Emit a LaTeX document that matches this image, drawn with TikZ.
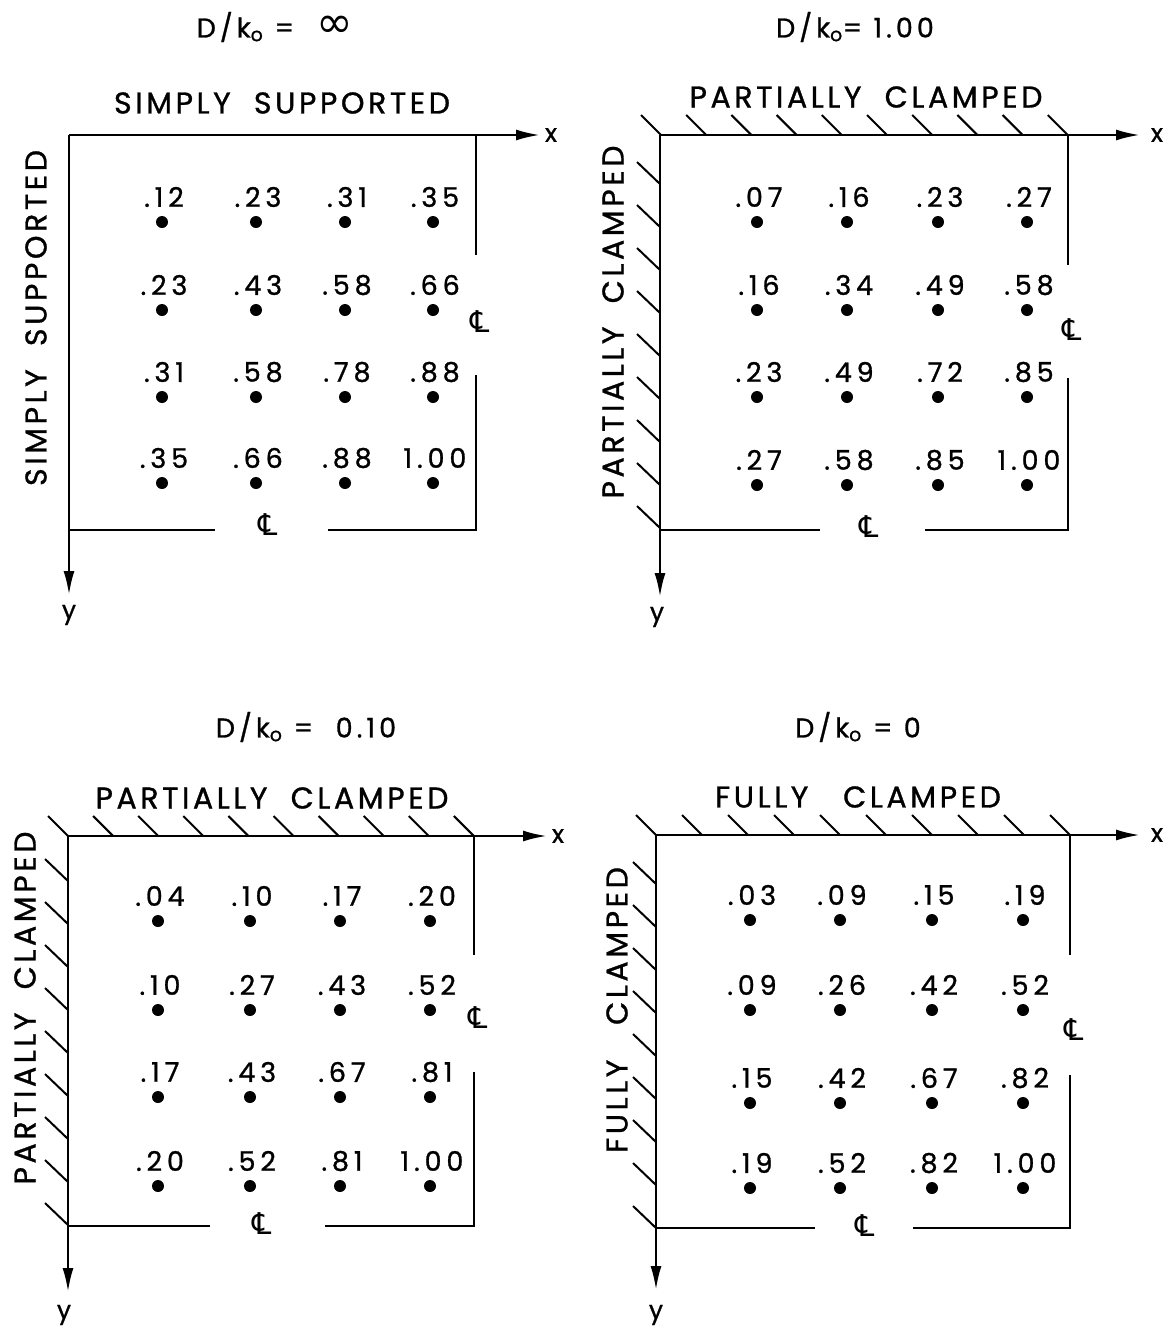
\documentclass[tikz,border=0pt]{standalone}
\usepackage{fontspec}
\setmainfont{Poppins}[FakeBold=1]
\newfontfamily\symfont{DejaVu Sans}
\usetikzlibrary{arrows.meta}
\tikzset{
  plate/.style={line width=2.5pt},
  axisarrow/.style={line width=2.5pt,-{Latex[length=24pt,width=11pt]}},
  hatchline/.style={line width=2pt},
  dot/.style={circle,fill=black,inner sep=0pt,minimum size=12pt},
  val/.style={font=\fontsize{27}{29}\selectfont\addfontfeature{LetterSpace=18},inner sep=0pt},
  title/.style={font=\fontsize{30}{32}\selectfont\addfontfeature{LetterSpace=12},inner sep=0pt},
  ratio/.style={font=\fontsize{27}{29}\selectfont\addfontfeature{LetterSpace=15},inner sep=0pt},
  axlab/.style={font=\fontsize{25}{27}\selectfont,inner sep=0pt},
  clsym/.style={font=\symfont\fontsize{30}{32}\selectfont,inner sep=0pt},
}
\newcommand\valpt[4]{\node[dot] (#1d) at (#2,#3) {}; \node[val] (#1v) at (#2+2,#3-25) {#4};}
\begin{document}
\begin{tikzpicture}[x=1pt,y=-1pt]
\useasboundingbox (0,0) rectangle (1170,1331);

% ---------------- Panel A: simply supported ----------------
\coordinate (a-o) at (69,135);
\coordinate (a-xt) at (540,135);
\coordinate (a-yt) at (69,595);
\coordinate (a-tr) at (476,135);
\coordinate (a-r1) at (476,255);
\coordinate (a-r2) at (476,375);
\coordinate (a-br) at (476,530);
\coordinate (a-b2) at (328,530);
\coordinate (a-b1) at (215,530);
\coordinate (a-bl) at (69,530);
\draw[axisarrow] (a-o) -- (a-xt);
\draw[axisarrow] (a-o) -- (a-yt);
\draw[plate] (a-tr) -- (a-r1);
\draw[plate] (a-r2) -- (a-br) -- (a-b2);
\draw[plate] (a-b1) -- (a-bl);
\node[axlab] (a-x) at (551,135) {x};
\node[axlab] (a-y) at (69,615) {y};
\node[clsym] (a-cr) at (480,322) {℄};
\node[clsym] (a-cb) at (268,525) {℄};
\node[ratio] (a-ratio) at (275,27) {D/k\textsubscript{o} = \ {\symfont\fontsize{44}{44}\selectfont ∞}};
\node[title] (a-top) at (282,103) {SIMPLY\ \ SUPPORTED};
\node[title,rotate=90] (a-side) at (36,318) {SIMPLY\ \ SUPPORTED};
\valpt{a11}{162}{222}{.12}\valpt{a12}{256}{222}{.23}\valpt{a13}{345}{222}{.31}\valpt{a14}{433}{222}{.35}
\valpt{a21}{162}{310}{.23}\valpt{a22}{256}{310}{.43}\valpt{a23}{345}{310}{.58}\valpt{a24}{433}{310}{.66}
\valpt{a31}{162}{397}{.31}\valpt{a32}{256}{397}{.58}\valpt{a33}{345}{397}{.78}\valpt{a34}{433}{397}{.88}
\valpt{a41}{162}{483}{.35}\valpt{a42}{256}{483}{.66}\valpt{a43}{345}{483}{.88}\valpt{a44}{433}{483}{1.00}

% ---------------- Panel B: D/k0 = 1.00 ----------------
\coordinate (b-o) at (660,135);
\coordinate (b-xt) at (1140,135);
\coordinate (b-yt) at (660,597);
\coordinate (b-tr) at (1068,135);
\coordinate (b-r1) at (1068,265);
\coordinate (b-r2) at (1068,378);
\coordinate (b-br) at (1068,530);
\coordinate (b-b2) at (925,530);
\coordinate (b-b1) at (820,530);
\coordinate (b-bl) at (660,530);
\draw[axisarrow] (b-o) -- (b-xt);
\draw[axisarrow] (b-o) -- (b-yt);
\draw[plate] (b-tr) -- (b-r1);
\draw[plate] (b-r2) -- (b-br) -- (b-b2);
\draw[plate] (b-b1) -- (b-bl);
\foreach \k in {0,...,9} \draw[hatchline] (661+45.2*\k,135) -- ++(-20,-20);
\foreach \k in {0,...,8} \draw[hatchline] (660,528-43*\k) -- ++(-23,-22);
\node[axlab] (b-x) at (1157,135) {x};
\node[axlab] (b-y) at (657,617) {y};
\node[clsym] (b-cr) at (1072,330) {℄};
\node[clsym] (b-cb) at (869,527) {℄};
\node[ratio] (b-ratio) at (855,27) {D/k\textsubscript{o}= 1.00};
\node[title] (b-top) at (866,97) {PARTIALLY\ \ CLAMPED};
\node[title,rotate=90] (b-side) at (613,322) {PARTIALLY\ \ CLAMPED};
\valpt{b11}{757}{222}{.07}\valpt{b12}{847}{222}{.16}\valpt{b13}{938}{222}{.23}\valpt{b14}{1027}{222}{.27}
\valpt{b21}{757}{310}{.16}\valpt{b22}{847}{310}{.34}\valpt{b23}{938}{310}{.49}\valpt{b24}{1027}{310}{.58}
\valpt{b31}{757}{397}{.23}\valpt{b32}{847}{397}{.49}\valpt{b33}{938}{397}{.72}\valpt{b34}{1027}{397}{.85}
\valpt{b41}{757}{485}{.27}\valpt{b42}{847}{485}{.58}\valpt{b43}{938}{485}{.85}\valpt{b44}{1027}{485}{1.00}

% ---------------- Panel C: D/k0 = 0.10 ----------------
\coordinate (c-o) at (68,836);
\coordinate (c-xt) at (547,836);
\coordinate (c-yt) at (68,1292);
\coordinate (c-tr) at (474,836);
\coordinate (c-r1) at (474,955);
\coordinate (c-r2) at (474,1072);
\coordinate (c-br) at (474,1226);
\coordinate (c-b2) at (325,1226);
\coordinate (c-b1) at (210,1226);
\coordinate (c-bl) at (68,1226);
\draw[axisarrow] (c-o) -- (c-xt);
\draw[axisarrow] (c-o) -- (c-yt);
\draw[plate] (c-tr) -- (c-r1);
\draw[plate] (c-r2) -- (c-br) -- (c-b2);
\draw[plate] (c-b1) -- (c-bl);
\foreach \k in {0,...,9} \draw[hatchline] (68+45.1*\k,836) -- ++(-20,-20);
\foreach \k in {0,...,8} \draw[hatchline] (68,1225-43*\k) -- ++(-23,-22);
\node[axlab] (c-x) at (558,836) {x};
\node[axlab] (c-y) at (64,1315) {y};
\node[clsym] (c-cr) at (478,1018) {℄};
\node[clsym] (c-cb) at (262,1224) {℄};
\node[ratio] (c-ratio) at (306,727) {D/k\textsubscript{o} = \ 0.10};
\node[title] (c-top) at (272,798) {PARTIALLY\ \ CLAMPED};
\node[title,rotate=90] (c-side) at (25,1008) {PARTIALLY\ \ CLAMPED};
\valpt{c11}{158}{921}{.04}\valpt{c12}{250}{921}{.10}\valpt{c13}{340}{921}{.17}\valpt{c14}{430}{921}{.20}
\valpt{c21}{158}{1010}{.10}\valpt{c22}{250}{1010}{.27}\valpt{c23}{340}{1010}{.43}\valpt{c24}{430}{1010}{.52}
\valpt{c31}{158}{1097}{.17}\valpt{c32}{250}{1097}{.43}\valpt{c33}{340}{1097}{.67}\valpt{c34}{430}{1097}{.81}
\valpt{c41}{158}{1186}{.20}\valpt{c42}{250}{1186}{.52}\valpt{c43}{340}{1186}{.81}\valpt{c44}{430}{1186}{1.00}

% ---------------- Panel D: fully clamped ----------------
\coordinate (d-o) at (656,835);
\coordinate (d-xt) at (1140,835);
\coordinate (d-yt) at (656,1290);
\coordinate (d-tr) at (1070,835);
\coordinate (d-r1) at (1070,955);
\coordinate (d-r2) at (1070,1075);
\coordinate (d-br) at (1070,1228);
\coordinate (d-b2) at (913,1228);
\coordinate (d-b1) at (815,1228);
\coordinate (d-bl) at (656,1228);
\draw[axisarrow] (d-o) -- (d-xt);
\draw[axisarrow] (d-o) -- (d-yt);
\draw[plate] (d-tr) -- (d-r1);
\draw[plate] (d-r2) -- (d-br) -- (d-b2);
\draw[plate] (d-b1) -- (d-bl);
\foreach \k in {0,...,9} \draw[hatchline] (656+46*\k,835) -- ++(-20,-20);
\foreach \k in {0,...,8} \draw[hatchline] (656,1228-43*\k) -- ++(-23,-22);
\node[axlab] (d-x) at (1157,835) {x};
\node[axlab] (d-y) at (656,1315) {y};
\node[clsym] (d-cr) at (1074,1030) {℄};
\node[clsym] (d-cb) at (865,1226) {℄};
\node[ratio] (d-ratio) at (858,727) {D/k\textsubscript{o} = 0};
\node[title] (d-top) at (858,797) {FULLY\ \ \ CLAMPED};
\node[title,rotate=90] (d-side) at (617,1010) {FULLY\ \ \ CLAMPED};
\valpt{d11}{750}{920}{.03}\valpt{d12}{840}{920}{.09}\valpt{d13}{932}{920}{.15}\valpt{d14}{1023}{920}{.19}
\valpt{d21}{750}{1010}{.09}\valpt{d22}{840}{1010}{.26}\valpt{d23}{932}{1010}{.42}\valpt{d24}{1023}{1010}{.52}
\valpt{d31}{750}{1103}{.15}\valpt{d32}{840}{1103}{.42}\valpt{d33}{932}{1103}{.67}\valpt{d34}{1023}{1103}{.82}
\valpt{d41}{750}{1188}{.19}\valpt{d42}{840}{1188}{.52}\valpt{d43}{932}{1188}{.82}\valpt{d44}{1023}{1188}{1.00}
\end{tikzpicture}
\end{document}
